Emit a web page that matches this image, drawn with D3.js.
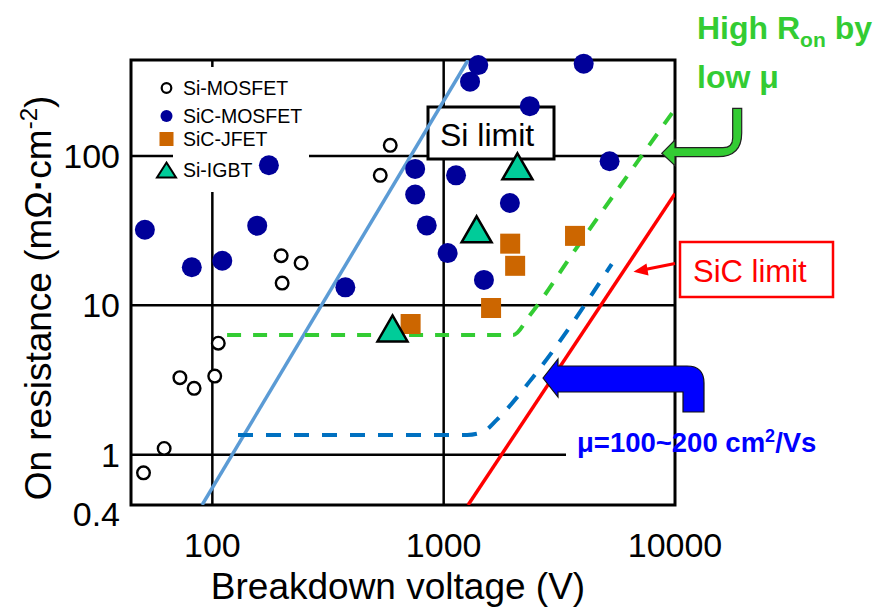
<!DOCTYPE html>
<html><head><meta charset="utf-8">
<script src="https://cdn.jsdelivr.net/npm/d3@7"></script>
<style>
html,body{margin:0;padding:0;background:#fff;}
svg{display:block;font-family:"Liberation Sans",Arial,sans-serif;}
</style></head><body>
<svg id="chart" width="878" height="607"></svg>
<script>
// Device data: [breakdown voltage (V), specific on-resistance (mΩ·cm²)]
const siMosfet = [[50.4,0.755],[61.9,1.10],[72.4,3.28],[83.4,2.78],[102.4,3.36],[106.1,5.58],
  [198.4,21.5],[241.9,19.2],[200.3,14.1],[531.9,74.3],[587.5,118]];
const sicMosfet = [[51.1,32.1],[81.5,18.0],[110.4,19.9],[156.3,34.2],[175.6,86.8],[375.8,13.2],
  [752.9,82.0],[753,55.2],[844.8,34.3],[1040,22.4],[1131,74.3],[1300,315],[1411,407],
  [1493,14.8],[1933,48.5],[2357,216],[4030,416],[5215,92.3]];
const sicJfet = [[719.6,7.5],[1603,9.6],[1939,25.9],[2037,18.4],[3697,29.2]];
const siIgbt = [[600.9,7.0],[1388,32.3],[2084,85.4]];

// Theoretical limits and mobility-limited curves
const siLimit = [[90.3,0.46],[1275,440]];
const sicLimit = [[1275,0.46],[10000,56]];
const lowMobilityCurve = [[115.8,6.33],[1995,6.33],[2363,8.63],[3735,24],[9716,194]];
const highMobilityCurve = [[129.1,1.355],[1262,1.355],[1480,1.42],[1696,1.71],[2443,3.33],[5327,18.9]];

const xTicks = [100, 1000, 10000];
const xTickLabels = ["100", "1000", "10000"];
const yGrid = [1, 10, 100];
const yTicks = [0.4, 1, 10, 100];
const yTickLabels = ["0.4", "1", "10", "100"];

const legendItems = ["Si-MOSFET", "SiC-MOSFET", "SiC-JFET", "Si-IGBT"];

const svg = d3.select("#chart");
const x = d3.scaleLog().domain([44.5, 10000]).range([131, 675]);
const y = d3.scaleLog().domain([0.46, 440]).range([505, 60]);
const [x0, x1] = x.range();
const [y0, y1] = y.range();

svg.append("defs").append("clipPath").attr("id", "plot")
  .append("rect").attr("x", x0).attr("y", y1).attr("width", x1 - x0).attr("height", y0 - y1);

// grid
const grid = svg.append("g").attr("stroke", "#000").attr("stroke-width", 2.5);
grid.selectAll(".hg").data(yGrid).join("line")
  .attr("x1", x0).attr("x2", x1).attr("y1", d => y(d)).attr("y2", d => y(d));
grid.selectAll(".vg").data(xTicks.filter(d => d < 10000)).join("line")
  .attr("x1", d => x(d)).attr("x2", d => x(d)).attr("y1", y1).attr("y2", y0);

// white areas behind legend and mobility label
svg.append("rect").attr("x", 173).attr("y", 67).attr("width", 136).attr("height", 125).attr("fill", "#fff");
svg.append("rect").attr("x", 566).attr("y", 414).attr("width", 270).attr("height", 56).attr("fill", "#fff");

// frame
svg.append("rect").attr("x", x0).attr("y", y1).attr("width", x1 - x0).attr("height", y0 - y1)
  .attr("fill", "none").attr("stroke", "#000").attr("stroke-width", 3);

// "Si limit" label box
svg.append("rect").attr("x", 428).attr("y", 107).attr("width", 126).attr("height", 52)
  .attr("fill", "#fff").attr("stroke", "#000").attr("stroke-width", 3);
svg.append("text").attr("x", 440).attr("y", 146).attr("font-size", 32).text("Si limit");

// lines
const line = d3.line().x(d => x(d[0])).y(d => y(d[1]));
const curved = d3.line().x(d => x(d[0])).y(d => y(d[1])).curve(d3.curveMonotoneX);
const lines = svg.append("g").attr("clip-path", "url(#plot)").attr("fill", "none");
lines.append("path").datum(siLimit).attr("d", line).attr("stroke", "#5b9bd5").attr("stroke-width", 3.5);
lines.append("path").datum(sicLimit).attr("d", line).attr("stroke", "#ff0000").attr("stroke-width", 3.5);
lines.append("path").datum(lowMobilityCurve).attr("d", curved).attr("stroke", "#33cc33")
  .attr("stroke-width", 4).attr("stroke-dasharray", "14,12");
lines.append("path").datum(highMobilityCurve).attr("d", curved).attr("stroke", "#0070c0")
  .attr("stroke-width", 4).attr("stroke-dasharray", "15,13");

// markers
const tri = (w, h) => `M0,${-h/2}L${w/2},${h/2}L${-w/2},${h/2}Z`;
const marks = svg.append("g");
marks.selectAll(".sim").data(siMosfet).join("circle")
  .attr("cx", d => x(d[0])).attr("cy", d => y(d[1])).attr("r", 6.3)
  .attr("fill", "#fff").attr("stroke", "#000").attr("stroke-width", 2.4);
marks.selectAll(".sicm").data(sicMosfet).join("circle")
  .attr("cx", d => x(d[0])).attr("cy", d => y(d[1])).attr("r", 10).attr("fill", "#000099");
marks.selectAll(".jfet").data(sicJfet).join("rect")
  .attr("x", d => x(d[0]) - 10).attr("y", d => y(d[1]) - 10).attr("width", 20).attr("height", 20)
  .attr("fill", "#cc6600");
marks.selectAll(".igbt").data(siIgbt).join("path")
  .attr("transform", d => `translate(${x(d[0])},${y(d[1])})`).attr("d", tri(30, 26))
  .attr("fill", "#00cc99").attr("stroke", "#000").attr("stroke-width", 2.5).attr("stroke-linejoin", "miter");

// legend
const legY = [88, 116, 139, 170];
const leg = svg.append("g");
leg.append("circle").attr("cx", 166.5).attr("cy", legY[0]).attr("r", 4.8)
  .attr("fill", "#fff").attr("stroke", "#000").attr("stroke-width", 2.2);
leg.append("circle").attr("cx", 166.5).attr("cy", legY[1]).attr("r", 6).attr("fill", "#000099");
leg.append("rect").attr("x", 159.5).attr("y", legY[2] - 7).attr("width", 14).attr("height", 14).attr("fill", "#cc6600");
leg.append("path").attr("transform", `translate(166.5,${legY[3]})`).attr("d", tri(19, 15))
  .attr("fill", "#00cc99").attr("stroke", "#000").attr("stroke-width", 2);
leg.selectAll("text").data(legendItems).join("text")
  .attr("x", 183).attr("y", (d, i) => legY[i] + 6.5).attr("font-size", 19.5).text(d => d);

// axes labels
svg.append("g").selectAll("text").data(xTicks).join("text")
  .attr("x", d => x(d)).attr("y", 557).attr("text-anchor", "middle").attr("font-size", 34)
  .text((d, i) => xTickLabels[i]);
svg.append("g").selectAll("text").data(yTicks).join("text")
  .attr("x", 120).attr("y", d => y(d) + 12).attr("text-anchor", "end").attr("font-size", 34)
  .text((d, i) => yTickLabels[i]);

svg.append("text").attr("x", 398).attr("y", 599).attr("text-anchor", "middle").attr("font-size", 37)
  .text("Breakdown voltage (V)");

const yt = svg.append("text").attr("transform", "translate(51,298) rotate(-90)")
  .attr("text-anchor", "middle").attr("font-size", 37);
yt.append("tspan").text("On resistance (mΩ");
yt.append("tspan").attr("font-weight", "bold").text("·");
yt.append("tspan").text("cm");
yt.append("tspan").attr("font-size", 24).attr("dy", -14).text("-2");
yt.append("tspan").attr("dy", 14).text(")");

// SiC limit label with arrow
svg.append("rect").attr("x", 680).attr("y", 242).attr("width", 153).attr("height", 55)
  .attr("fill", "#fff").attr("stroke", "#ff0000").attr("stroke-width", 2.5);
svg.append("text").attr("x", 693).attr("y", 282).attr("font-size", 31).attr("fill", "#ff0000").text("SiC limit");
svg.append("line").attr("x1", 675).attr("y1", 263.5).attr("x2", 645).attr("y2", 269.5)
  .attr("stroke", "#ff0000").attr("stroke-width", 3);
svg.append("path").attr("d", "M633.5,271.8L646.5,263.5L648.5,275.5Z").attr("fill", "#ff0000");

// bent arrows
svg.append("path")
  .attr("d", "M543,378L558,359L558,366L687,366Q704,366 704,383L704,412L683,412L683,392L558,392L558,397Z")
  .attr("fill", "#0000ff").attr("stroke", "#111").attr("stroke-width", 1.2);
svg.append("path")
  .attr("d", "M661.7,153.3L675,140L675,147.7L723,147.7Q732.7,147.7 732.7,138L732.7,108.3L741.7,108.3L741.7,133Q741.7,156.7 718,156.7L675,156.7L675,165.7Z")
  .attr("fill", "#33cc33").attr("stroke", "#222").attr("stroke-width", 1.2);

// mobility annotations
const mu = svg.append("text").attr("x", 577).attr("y", 452).attr("font-size", 27.5)
  .attr("font-weight", "bold").attr("fill", "#0000ff");
mu.append("tspan").text("μ=100~200 cm");
mu.append("tspan").attr("font-size", 18).attr("dy", -10).text("2");
mu.append("tspan").attr("dy", 10).text("/Vs");

const hi = svg.append("text").attr("x", 697).attr("y", 39).attr("font-size", 32)
  .attr("font-weight", "bold").attr("fill", "#33cc33");
hi.append("tspan").text("High R");
hi.append("tspan").attr("font-size", 21).attr("dy", 8).text("on");
hi.append("tspan").attr("dy", -8).text(" by");
svg.append("text").attr("x", 697).attr("y", 88).attr("font-size", 32)
  .attr("font-weight", "bold").attr("fill", "#33cc33").text("low μ");
</script>
</body></html>
